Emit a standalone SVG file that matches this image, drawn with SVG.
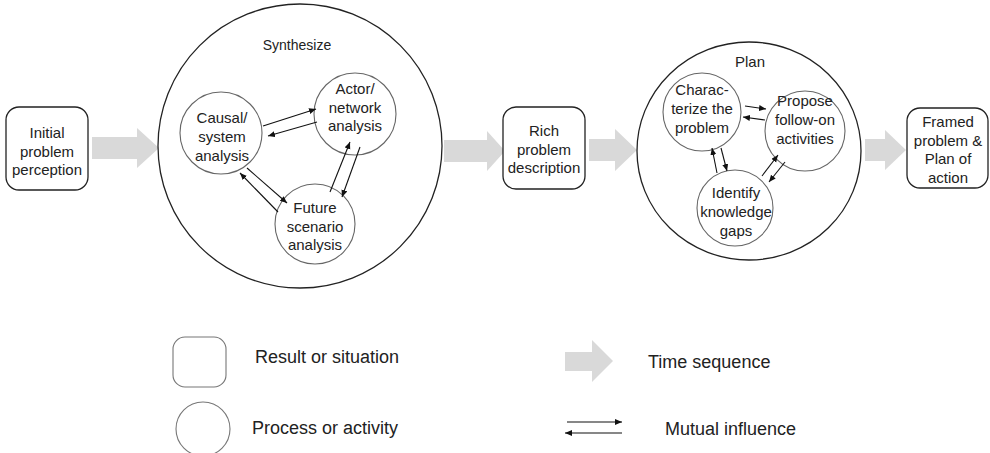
<svg xmlns="http://www.w3.org/2000/svg" width="990" height="453" viewBox="0 0 990 453">
<style>
  .t { font-family: "Liberation Sans", Arial, sans-serif; font-size: 15px; fill: #222; text-anchor: middle; }
  .lg { font-family: "Liberation Sans", Arial, sans-serif; font-size: 18px; fill: #222; }
  .box { fill: #fff; stroke: #222; stroke-width: 1.3; }
  .big { fill: #fff; stroke: #222; stroke-width: 1.3; }
  .sm { fill: #fff; stroke: #666; stroke-width: 1.1; }
  .blk { fill: #d9d9d9; stroke: none; }
  .ln { stroke: #111; stroke-width: 1.1; fill: none; marker-end: url(#ah); }
  .lgs { fill: #fff; stroke: #777; stroke-width: 1.1; }
</style>
<defs>
  <marker id="ah" markerUnits="userSpaceOnUse" markerWidth="8" markerHeight="7" refX="7" refY="3" orient="auto">
    <path d="M0,0 L7,3 L0,6 z" fill="#111"/>
  </marker>
</defs>
<rect width="990" height="453" fill="#fff"/>

<g id="time-arrows">
  <path class="blk" d="M92,137 H137 V128 L159,148 L137,168 V159 H92 Z"/>
  <path class="blk" d="M444,140 H487 V131 L505,151 L487,171 V162 H444 Z"/>
  <path class="blk" d="M589,139 H615 V129 L637,150 L615,171 V161 H589 Z"/>
  <path class="blk" d="M865,139 H885 V130 L906,150 L885,170 V161 H865 Z"/>
</g>

<g id="initial">
  <rect class="box" x="6" y="107" width="82" height="83" rx="13"/>
  <text class="t" x="47" y="138">Initial</text>
  <text class="t" x="47" y="156.5">problem</text>
  <text class="t" x="47" y="175">perception</text>
</g>

<g id="synthesize">
  <circle class="big" cx="300" cy="146" r="142"/>
  <text class="t" x="297" y="50" style="font-size:14px">Synthesize</text>
</g>

<g id="causal">
  <circle class="sm" cx="221" cy="133" r="41"/>
  <text class="t" x="222" y="123">Causal/</text>
  <text class="t" x="222" y="142">system</text>
  <text class="t" x="222" y="161">analysis</text>
</g>

<g id="actor">
  <circle class="sm" cx="355" cy="114" r="41"/>
  <text class="t" x="355" y="94">Actor/</text>
  <text class="t" x="355" y="112.5">network</text>
  <text class="t" x="355" y="131">analysis</text>
</g>

<g id="future">
  <circle class="sm" cx="315" cy="224" r="40"/>
  <text class="t" x="315" y="213">Future</text>
  <text class="t" x="315" y="231.5">scenario</text>
  <text class="t" x="315" y="250">analysis</text>
</g>

<g id="rich">
  <rect class="box" x="503" y="107" width="82" height="82" rx="13"/>
  <text class="t" x="544" y="136">Rich</text>
  <text class="t" x="544" y="154.5">problem</text>
  <text class="t" x="544" y="173">description</text>
</g>

<g id="plan">
  <ellipse class="big" cx="749" cy="151" rx="112" ry="109"/>
  <text class="t" x="750" y="67">Plan</text>
</g>

<g id="characterize">
  <circle class="sm" cx="702" cy="112" r="39"/>
  <text class="t" x="702" y="95">Charac-</text>
  <text class="t" x="702" y="114">terize the</text>
  <text class="t" x="702" y="133">problem</text>
</g>

<g id="propose">
  <circle class="sm" cx="805" cy="131" r="40"/>
  <text class="t" x="805" y="106">Propose</text>
  <text class="t" x="805" y="125">follow-on</text>
  <text class="t" x="805" y="144">activities</text>
</g>

<g id="identify">
  <circle class="sm" cx="735" cy="208" r="38"/>
  <text class="t" x="736" y="198">Identify</text>
  <text class="t" x="736" y="217">knowledge</text>
  <text class="t" x="736" y="236">gaps</text>
</g>

<g id="framed">
  <rect class="box" x="907" y="108" width="81" height="80" rx="13"/>
  <text class="t" x="948" y="127">Framed</text>
  <text class="t" x="948" y="145.5">problem &amp;</text>
  <text class="t" x="948" y="164">Plan of</text>
  <text class="t" x="948" y="182.5">action</text>
</g>

<g id="connectors">
  <line class="ln" x1="263" y1="126" x2="316" y2="109"/>
  <line class="ln" x1="317" y1="122" x2="268" y2="136"/>
  <line class="ln" x1="330" y1="192" x2="350" y2="142"/>
  <line class="ln" x1="360" y1="147" x2="342" y2="197"/>
  <line class="ln" x1="278" y1="212" x2="240" y2="173"/>
  <line class="ln" x1="247" y1="168" x2="287" y2="203"/>
  <line class="ln" x1="745" y1="106" x2="766" y2="109"/>
  <line class="ln" x1="765" y1="120" x2="743" y2="117"/>
  <line class="ln" x1="717" y1="173" x2="712" y2="148"/>
  <line class="ln" x1="721" y1="148" x2="727" y2="171"/>
  <line class="ln" x1="762" y1="176" x2="778" y2="155"/>
  <line class="ln" x1="785" y1="162" x2="769" y2="182"/>
</g>

<g id="legend">
  <rect class="lgs" x="173" y="337" width="53" height="50" rx="12"/>
  <text class="lg" x="255" y="363">Result or situation</text>
  <circle class="lgs" cx="203" cy="429" r="27"/>
  <text class="lg" x="252" y="434">Process or activity</text>
  <path class="blk" d="M565,352 H592 V340 L613,361 L592,382 V371 H565 Z"/>
  <text class="lg" x="648" y="368">Time sequence</text>
  <line class="ln" x1="567" y1="422" x2="622" y2="422"/>
  <line class="ln" x1="622" y1="433" x2="565" y2="433"/>
  <text class="lg" x="665" y="435">Mutual influence</text>
</g>
</svg>
